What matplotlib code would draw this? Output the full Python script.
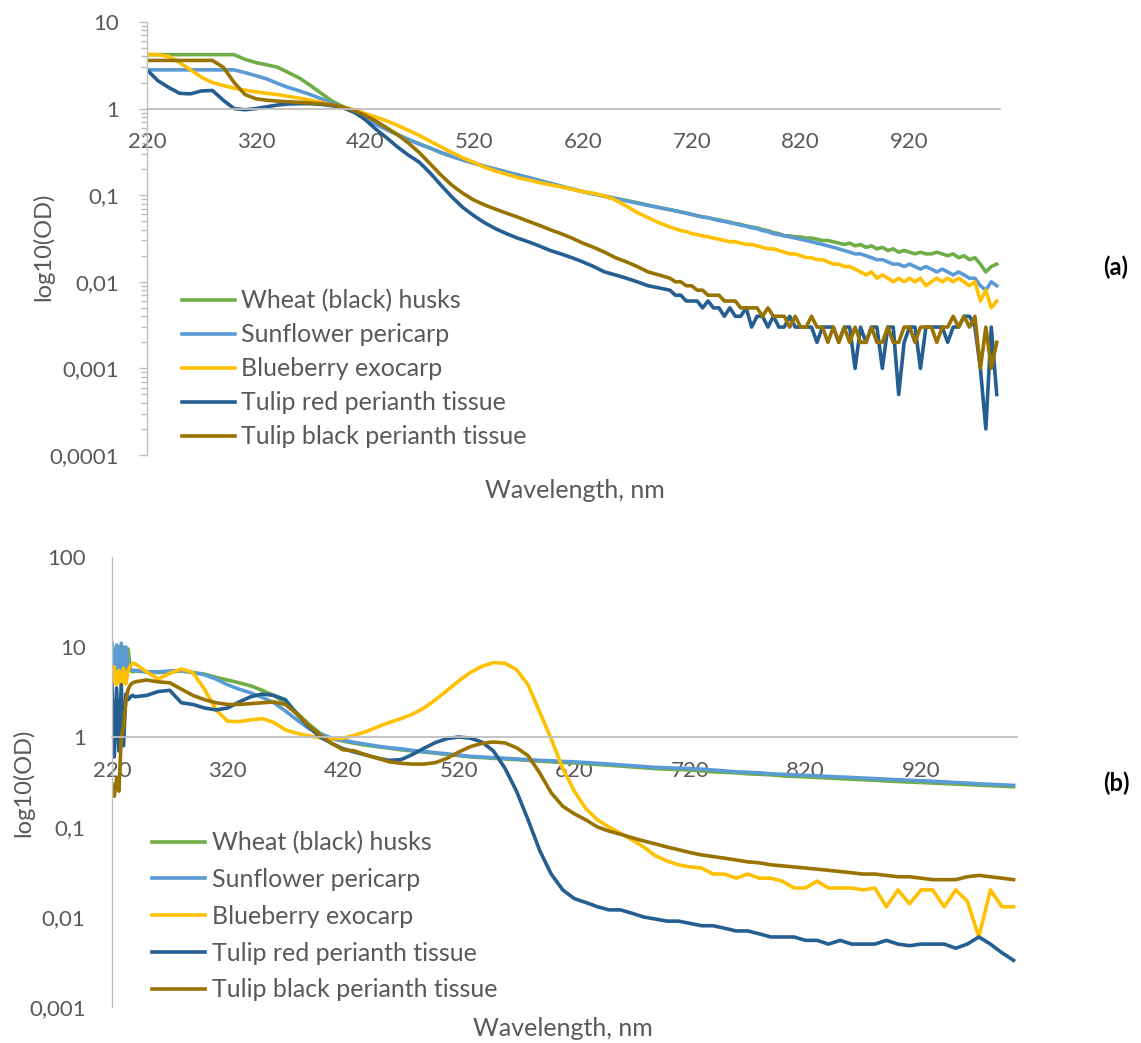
import numpy as np
import matplotlib.pyplot as plt
from matplotlib.ticker import FixedLocator, LogLocator, NullFormatter

plt.rcParams['font.family'] = ['Lato', 'DejaVu Sans']
GREY = '#595959'
AXIS = '#BFBFBF'

labels = ["Wheat (black) husks", "Sunflower pericarp", "Blueberry exocarp",
          "Tulip red perianth tissue", "Tulip black perianth tissue"]
colors = ['#70AD47', '#5B9BD5', '#FFC000', '#255E91', '#997300']

# ---- panel (a) ----
wl_a = list(range(220, 700, 10)) + list(range(700, 1001, 5))

wheat_a = [4.2, 4.2, 4.2, 4.2, 4.2, 4.2, 4.2, 4.2, 4.2,
           3.7, 3.4, 3.2, 3.0, 2.6, 2.25, 1.85, 1.5, 1.22, 1.05,
           0.92, 0.79, 0.67, 0.58, 0.5, 0.44, 0.39, 0.35, 0.31, 0.28,
           0.255, 0.235, 0.215, 0.2, 0.185, 0.172, 0.16, 0.148, 0.137, 0.127,
           0.118, 0.11, 0.104, 0.098, 0.092, 0.087, 0.082, 0.077, 0.072,
           0.068, 0.066, 0.064, 0.062, 0.06, 0.058, 0.056, 0.055, 0.053, 0.052,
           0.05, 0.049, 0.047, 0.046, 0.044, 0.043, 0.042, 0.04, 0.039, 0.037,
           0.036, 0.034, 0.034, 0.033, 0.033, 0.032, 0.032, 0.031, 0.030, 0.030,
           0.029, 0.028, 0.027, 0.028, 0.026, 0.027, 0.025, 0.026, 0.024, 0.025,
           0.023, 0.024, 0.022, 0.023, 0.022, 0.021, 0.022, 0.021, 0.021, 0.022,
           0.021, 0.02, 0.021, 0.019, 0.02, 0.018, 0.019, 0.016, 0.013, 0.015,
           0.016]
sun_a = [2.8, 2.8, 2.8, 2.8, 2.8, 2.8, 2.8, 2.8, 2.8,
         2.6, 2.4, 2.2, 1.95, 1.75, 1.6, 1.45, 1.3, 1.15, 1.03,
         0.9, 0.78, 0.66, 0.57, 0.5, 0.44, 0.39, 0.35, 0.31, 0.28,
         0.255, 0.235, 0.215, 0.2, 0.185, 0.172, 0.16, 0.148, 0.137, 0.127,
         0.118, 0.11, 0.103, 0.097, 0.091, 0.086, 0.081, 0.076, 0.072,
         0.068, 0.066, 0.064, 0.062, 0.06, 0.058, 0.056, 0.055, 0.053, 0.051,
         0.05, 0.048, 0.047, 0.045, 0.044, 0.042, 0.041, 0.039, 0.038, 0.036,
         0.035, 0.034, 0.033, 0.032, 0.031, 0.030, 0.029, 0.028, 0.027, 0.026,
         0.025, 0.024, 0.023, 0.022, 0.021, 0.021, 0.020, 0.019, 0.018, 0.018,
         0.017, 0.016, 0.016, 0.015, 0.016, 0.015, 0.014, 0.015, 0.014, 0.013,
         0.014, 0.013, 0.012, 0.013, 0.012, 0.011, 0.011, 0.009, 0.008, 0.01,
         0.009]
blue_a = [4.2, 4.2, 4.0, 3.4, 2.8, 2.3, 2.0, 1.85, 1.72,
          1.63, 1.56, 1.5, 1.45, 1.38, 1.32, 1.25, 1.18, 1.1, 1.04,
          0.97, 0.88, 0.8, 0.72, 0.64, 0.56, 0.49, 0.42, 0.36, 0.31,
          0.27, 0.24, 0.21, 0.19, 0.175, 0.16, 0.15, 0.14, 0.132, 0.125,
          0.117, 0.11, 0.105, 0.098, 0.088, 0.075, 0.063, 0.055, 0.048,
          0.043, 0.041, 0.039, 0.038, 0.036, 0.035, 0.034, 0.033, 0.032, 0.031,
          0.030, 0.029, 0.029, 0.028, 0.027, 0.027, 0.026, 0.025, 0.024, 0.024,
          0.023, 0.022, 0.021, 0.021, 0.020, 0.019, 0.019, 0.018, 0.018, 0.017,
          0.016, 0.016, 0.015, 0.015, 0.014, 0.013, 0.012, 0.013, 0.011, 0.012,
          0.011, 0.010, 0.011, 0.010, 0.011, 0.010, 0.011, 0.009, 0.010, 0.011,
          0.010, 0.011, 0.010, 0.011, 0.010, 0.009, 0.010, 0.006, 0.008, 0.005,
          0.006]
tred_a = [2.8, 2.1, 1.75, 1.5, 1.48, 1.6, 1.62, 1.25, 1.0,
          0.97, 1.0, 1.05, 1.1, 1.13, 1.14, 1.14, 1.12, 1.08, 1.02,
          0.92, 0.75, 0.58, 0.46, 0.36, 0.29, 0.24, 0.18, 0.13, 0.095,
          0.072, 0.058, 0.048, 0.041, 0.036, 0.032, 0.029, 0.026, 0.023, 0.021,
          0.019, 0.017, 0.015, 0.013, 0.012, 0.011, 0.01, 0.009, 0.0085,
          0.008, 0.007, 0.007, 0.006, 0.006, 0.006, 0.005, 0.006, 0.005, 0.005,
          0.004, 0.005, 0.004, 0.004, 0.005, 0.003, 0.004, 0.004, 0.003, 0.004,
          0.003, 0.003, 0.004, 0.003, 0.003, 0.003, 0.003, 0.002, 0.003, 0.003,
          0.003, 0.002, 0.003, 0.003, 0.001, 0.003, 0.002, 0.003, 0.003, 0.001,
          0.003, 0.003, 0.0005, 0.002, 0.003, 0.003, 0.001, 0.003, 0.003, 0.003,
          0.003, 0.002, 0.003, 0.003, 0.004, 0.004, 0.003, 0.001, 0.0002, 0.003,
          0.0005]
tblack_a = [3.6, 3.6, 3.6, 3.6, 3.6, 3.6, 3.6, 3.0, 2.0,
            1.45, 1.3, 1.25, 1.22, 1.2, 1.18, 1.16, 1.14, 1.1, 1.04,
            0.95, 0.84, 0.72, 0.6, 0.5, 0.4, 0.31, 0.23, 0.17, 0.13,
            0.105, 0.088, 0.077, 0.069, 0.062, 0.056, 0.05, 0.045, 0.04, 0.036,
            0.032, 0.028, 0.025, 0.022, 0.019, 0.017, 0.015, 0.013, 0.012,
            0.011, 0.010, 0.010, 0.009, 0.009, 0.008, 0.008, 0.007, 0.007, 0.007,
            0.006, 0.006, 0.006, 0.005, 0.005, 0.005, 0.005, 0.004, 0.005, 0.004,
            0.004, 0.004, 0.003, 0.004, 0.003, 0.003, 0.004, 0.003, 0.003, 0.002,
            0.003, 0.002, 0.003, 0.002, 0.003, 0.002, 0.002, 0.003, 0.002, 0.002,
            0.003, 0.002, 0.002, 0.003, 0.003, 0.002, 0.003, 0.003, 0.003, 0.002,
            0.003, 0.003, 0.004, 0.003, 0.004, 0.003, 0.004, 0.001, 0.003, 0.001,
            0.002]

# ---- panel (b) ----
wl_b = list(range(220, 240, 2)) + list(range(240, 1001, 10))

wheat_b = [3.8, 9.5, 4.0, 10, 3.6, 10, 4.0, 9.5, 5.5, 5.3,
           5.4, 5.3, 5.2, 5.3, 5.4, 5.2, 5.0, 4.6, 4.3, 4.0,
           3.7, 3.3, 2.9, 2.4, 1.85, 1.4, 1.1, 0.96, 0.9, 0.85,
           0.81, 0.78, 0.75, 0.72, 0.7, 0.68, 0.66, 0.64, 0.62, 0.6,
           0.59, 0.58, 0.57, 0.56, 0.55, 0.54, 0.53, 0.52, 0.515, 0.505,
           0.495, 0.485, 0.475, 0.465, 0.455, 0.445, 0.44, 0.435, 0.43, 0.42,
           0.41, 0.405, 0.4, 0.39, 0.385, 0.38, 0.37, 0.365, 0.36, 0.355,
           0.35, 0.345, 0.34, 0.335, 0.33, 0.325, 0.32, 0.316, 0.312, 0.308,
           0.304, 0.3, 0.296, 0.292, 0.288, 0.284, 0.28]
sun_b = [11, 5.0, 10.5, 4.5, 11, 4.2, 10, 6.0, 5.6, 5.5,
         5.5, 5.3, 5.3, 5.4, 5.5, 5.2, 4.9, 4.4, 3.8, 3.4,
         3.1, 2.75, 2.4, 1.95, 1.55, 1.25, 1.08, 0.97, 0.92, 0.87,
         0.83, 0.79, 0.76, 0.74, 0.71, 0.69, 0.67, 0.65, 0.63, 0.61,
         0.6, 0.59, 0.58, 0.57, 0.56, 0.55, 0.545, 0.535, 0.53, 0.52,
         0.51, 0.5, 0.49, 0.48, 0.47, 0.46, 0.455, 0.45, 0.445, 0.44,
         0.43, 0.42, 0.41, 0.405, 0.4, 0.39, 0.385, 0.38, 0.375, 0.37,
         0.365, 0.36, 0.355, 0.35, 0.345, 0.34, 0.335, 0.33, 0.327, 0.322,
         0.317, 0.312, 0.307, 0.302, 0.298, 0.294, 0.29]
blue_b = [3.5, 6.0, 3.8, 5.5, 3.6, 5.8, 3.9, 5.5, 6.2, 6.6,
          6.5, 5.3, 4.4, 5.1, 5.7, 5.2, 3.4, 2.0, 1.5, 1.48,
          1.55, 1.6, 1.45, 1.2, 1.1, 1.03, 0.98, 0.96, 0.97, 1.05,
          1.15, 1.3, 1.45, 1.6, 1.8, 2.1, 2.6, 3.3, 4.2, 5.2,
          6.1, 6.7, 6.6, 5.6, 3.8, 1.9, 0.95, 0.45, 0.25, 0.16,
          0.12, 0.1, 0.085, 0.072, 0.06, 0.048, 0.042, 0.038, 0.036, 0.035,
          0.03, 0.03, 0.027, 0.03, 0.027, 0.027, 0.025, 0.021, 0.021, 0.025,
          0.021, 0.021, 0.021, 0.02, 0.021, 0.013, 0.02, 0.014, 0.02, 0.02,
          0.013, 0.02, 0.015, 0.006, 0.02, 0.013, 0.013]
tred_b = [3.8, 0.6, 3.5, 0.7, 3.8, 0.8, 3.0, 2.6, 2.8, 2.9,
          2.8, 2.9, 3.2, 3.3, 2.4, 2.3, 2.1, 2.0, 2.1, 2.45,
          2.8, 3.0, 2.9, 2.6, 1.8, 1.3, 1.0, 0.85, 0.74, 0.68,
          0.63, 0.58, 0.55, 0.56, 0.64, 0.75, 0.87, 0.96, 1.0, 0.97,
          0.88, 0.7, 0.45, 0.25, 0.12, 0.055, 0.03, 0.02, 0.016, 0.0145,
          0.013, 0.012, 0.012, 0.011, 0.01, 0.0095, 0.009, 0.009, 0.0085, 0.008,
          0.008, 0.0075, 0.007, 0.007, 0.0065, 0.006, 0.006, 0.006, 0.0055, 0.0055,
          0.005, 0.0055, 0.005, 0.005, 0.005, 0.0055, 0.005, 0.0048, 0.005, 0.005,
          0.005, 0.0045, 0.005, 0.006, 0.005, 0.004, 0.0033]
tblack_b = [0.3, 0.22, 0.35, 0.25, 1.0, 1.3, 2.5, 3.4, 3.8, 4.0,
            4.1, 4.3, 4.1, 4.0, 3.4, 2.9, 2.6, 2.4, 2.3, 2.3,
            2.35, 2.4, 2.45, 2.3, 1.8, 1.35, 1.05, 0.85, 0.72, 0.7,
            0.63, 0.58, 0.53, 0.51, 0.5, 0.5, 0.52, 0.58, 0.68, 0.78,
            0.85, 0.88, 0.86, 0.76, 0.62, 0.4, 0.24, 0.17, 0.14, 0.12,
            0.1, 0.09, 0.083, 0.076, 0.07, 0.065, 0.06, 0.056, 0.052, 0.049,
            0.047, 0.045, 0.043, 0.041, 0.04, 0.038, 0.037, 0.036, 0.035, 0.034,
            0.033, 0.032, 0.031, 0.03, 0.03, 0.029, 0.028, 0.028, 0.027, 0.026,
            0.026, 0.026, 0.028, 0.029, 0.028, 0.027, 0.026]

xticks = [220, 320, 420, 520, 620, 720, 820, 920]


def fmt(v):
    return ('%g' % v).replace('.', ',') if v < 1 else '%d' % v


def setup(ax, ymin, ymax, ticks_on):
    ax.set_yscale('log')
    ax.set_ylim(ymin, ymax)
    ax.set_xlim(220, 1003)
    for s in ['top', 'right']:
        ax.spines[s].set_visible(False)
    ax.spines['left'].set_color(AXIS)
    ax.spines['left'].set_linewidth(1.0)
    ax.spines['bottom'].set_position(('data', 1))
    ax.spines['bottom'].set_color(AXIS)
    ax.spines['bottom'].set_linewidth(1.3)
    ax.set_xticks(xticks)
    ax.set_xticklabels([str(t) for t in xticks])
    ax.tick_params(axis='x', length=0, pad=17, labelsize=16, labelcolor=GREY)
    yt = [10.0 ** k for k in range(int(np.log10(ymin)), int(np.log10(ymax)) + 1)]
    ax.yaxis.set_major_locator(FixedLocator(yt))
    ax.set_yticklabels([fmt(v) for v in yt])
    if ticks_on:
        ax.yaxis.set_minor_locator(LogLocator(base=10, subs=np.arange(2, 10)))
        ax.yaxis.set_minor_formatter(NullFormatter())
        ax.tick_params(axis='y', which='major', length=6, width=1, color=AXIS,
                       pad=14, labelsize=16, labelcolor=GREY)
        ax.tick_params(axis='y', which='minor', length=4, width=1, color=AXIS)
    else:
        ax.yaxis.set_minor_locator(FixedLocator([]))
        ax.tick_params(axis='y', which='major', length=0, pad=19,
                       labelsize=16, labelcolor=GREY)


fig = plt.figure(figsize=(11.41, 10.43), dpi=100)
W, H = 1141, 1043

ax1 = fig.add_axes([147 / W, 1 - 455 / H, 853 / W, 433 / H])
ax2 = fig.add_axes([112 / W, 1 - 1007 / H, 905 / W, 450 / H])

for series, c, lab in zip([wheat_a, sun_a, blue_a, tred_a, tblack_a], colors, labels):
    ax1.plot(wl_a, series, color=c, lw=2.6, label=lab, solid_joinstyle='round')
for series, c, lab in zip([wheat_b, sun_b, blue_b, tred_b, tblack_b], colors, labels):
    ax2.plot(wl_b, series, color=c, lw=2.6, label=lab, solid_joinstyle='round')

setup(ax1, 1e-4, 10, True)
setup(ax2, 1e-3, 100, False)

ax1.legend(loc='upper left', bbox_to_anchor=(182 / W, 1 - 289 / H),
           bbox_transform=fig.transFigure, frameon=False, fontsize=18,
           handlelength=2.1, handletextpad=0.25, labelspacing=0.44,
           borderpad=0, borderaxespad=0, labelcolor=GREY)
ax2.legend(loc='upper left', bbox_to_anchor=(152 / W, 1 - 831 / H),
           bbox_transform=fig.transFigure, frameon=False, fontsize=18,
           handlelength=2.1, handletextpad=0.28, labelspacing=0.55,
           borderpad=0, borderaxespad=0, labelcolor=GREY)

fig.text(43 / W, 1 - 247 / H, "log10(OD)", rotation=90, ha='center', va='center',
         fontsize=17, color=GREY)
fig.text(23 / W, 1 - 783 / H, "log10(OD)", rotation=90, ha='center', va='center',
         fontsize=17, color=GREY)
fig.text(575 / W, 1 - 491 / H, "Wavelength, nm", ha='center', va='center',
         fontsize=18, color=GREY)
fig.text(563 / W, 1 - 1029 / H, "Wavelength, nm", ha='center', va='center',
         fontsize=18, color=GREY)
fig.text(1116 / W, 1 - 267 / H, "(a)", ha='center', va='center',
         fontsize=17, fontweight='bold', color='black')
fig.text(1116 / W, 1 - 783 / H, "(b)", ha='center', va='center',
         fontsize=17, fontweight='bold', color='black')

plt.savefig("out.png", dpi=100)
